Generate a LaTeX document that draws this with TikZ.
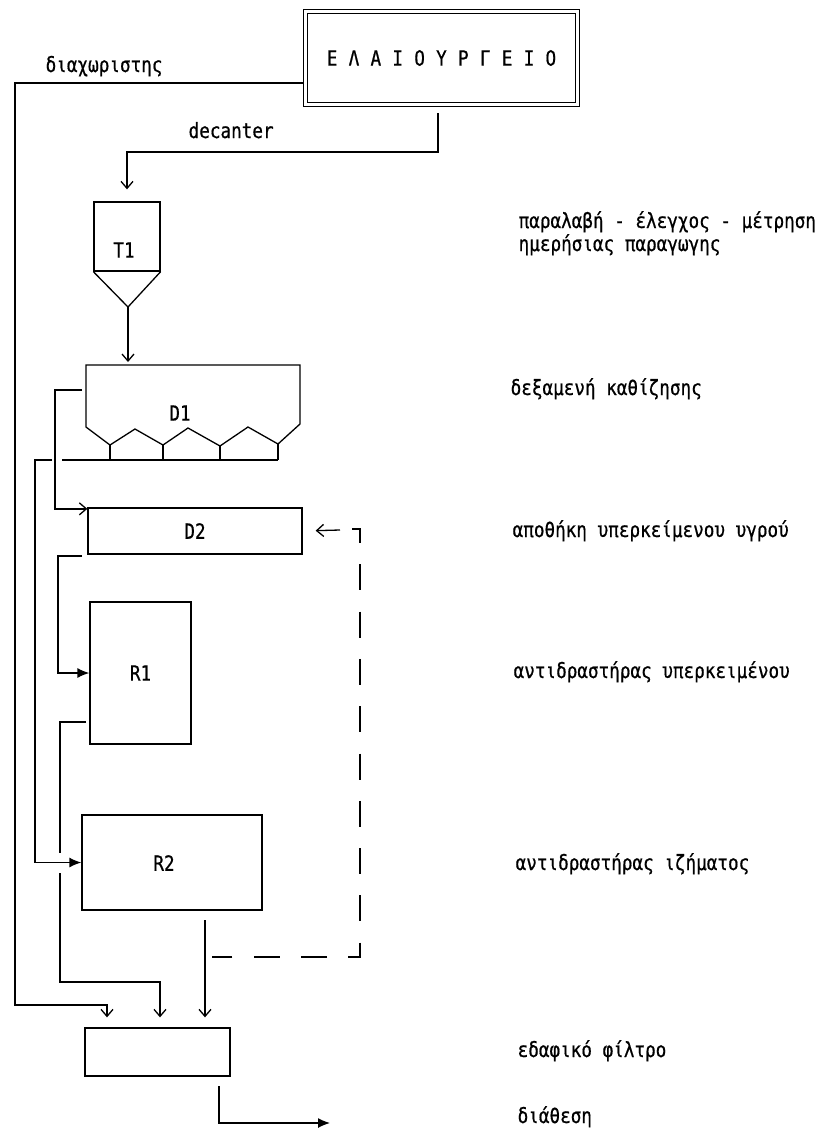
\documentclass[tikz,border=0pt]{standalone}
\usepackage{fontspec}
\newfontfamily\tw[FakeStretch=0.84,FakeBold=0.6]{DejaVu Sans Mono}
\newfontfamily\twsp[FakeStretch=0.84,FakeBold=0.6,LetterSpace=3]{DejaVu Sans Mono}
\usetikzlibrary{arrows.meta,calc}

\begin{document}
\begin{tikzpicture}[x=1pt,y=-1pt,line width=1.3pt,
  font=\tw\fontsize{21}{24}\selectfont,
  unit/.style={draw,inner sep=0pt},
  pipe/.style={-{Straight Barb[length=7pt,width=12pt]}},
  feed/.style={-{Latex[length=12pt,width=10pt]}},
  note/.style={anchor=base west,inner sep=0pt}]
\useasboundingbox (0,0) rectangle (830,1133);

\node[unit,double,double distance=3pt,line width=1.1pt,minimum width=272pt,minimum height=93pt] (mill) at (441.5,58) {\twsp Ε Λ Α Ι Ο Υ Ρ Γ Ε Ι Ο};

\node[unit,minimum width=66pt,minimum height=69pt] (t1) at (127,236.5) {};
\node (t1lab) at (124,250) {T1};
\coordinate (t1tip) at (128,307);
\draw (t1.south west) -- (t1tip) -- (t1.south east);

\coordinate (d1nw) at (86,365);
\coordinate (d1ne) at (300,365);
\draw (86,427) -- (d1nw) -- (d1ne) -- (300,424) -- (278,444) -- (248,427) -- (220,446) -- (188,428) -- (163,445) -- (135,429) -- (110,445) -- cycle;
\foreach \x/\y in {110/445,163/445,220/446,278/444}
  \draw (\x,\y) -- (\x,460);
\draw (62,460) -- (278,460);
\node (d1lab) at (180,413) {D1};

\node[unit,minimum width=214pt,minimum height=46pt] (d2) at (195,531) {D2};
\node[unit,minimum width=101pt,minimum height=142pt] (r1) at (140.5,673) {R1};
\node[unit,minimum width=180pt,minimum height=95pt] (r2) at (172,862.5) {};
\node (r2lab) at (164,863) {R2};
\node[unit,minimum width=145pt,minimum height=48pt] (filt) at (157.5,1052) {};

\coordinate (sepout) at (303,83);
\draw[pipe,shorten >=10pt] (sepout) -| (15,1005) -| ([xshift=-50.5pt]filt.north);

\coordinate (decout) at (438,113);
\draw[pipe,shorten >=12pt] (decout) -- (438,152) -| (t1.north);

\draw[pipe,shorten >=3pt] (t1tip) -- (t1tip |- d1nw);

\coordinate (d1up) at (82,390);
\draw[pipe] (d1up) -- (55,390) |- ([yshift=-1.5pt]d2.north west);

\coordinate (d1low) at (52,460);
\draw[feed] (d1low) -- (35,460) |- (r2.west);

\coordinate (d2out) at (82,556);
\draw[feed] (d2out) -- (58,556) |- (r1.west);

\coordinate (r1out) at (86,722);
\coordinate (hop) at (60,853);
\coordinate (hopend) at (60,873);
\draw (r1out) -| (hop);
\draw[pipe,shorten >=10pt] (hopend) -- (60,982) -| ([xshift=2.5pt]filt.north);

\coordinate (r2out) at (205,920);
\draw[pipe,shorten >=10pt] (r2out) -- (r2out |- filt.north);

\coordinate (ret) at (340,530);
\draw[dash pattern=on 26pt off 21.3pt,dash phase=4pt] (352,529) -- (360,529) -- (360,957) -- (212,957);
\draw[pipe,shorten >=13pt] (ret) -- (d2.east);

\coordinate (fout) at (219,1086);
\coordinate (disp) at (330,1123);
\draw[feed] (fout) |- (disp);

\node[note] (lsep) at (45,72) {διαχωριστης};
\node[note] (ldec) at (188,138) {decanter};
\node[note] (l1) at (518,228) {παραλαβή - έλεγχος - μέτρηση};
\node[note] (l1b) at (518,251) {ημερήσιας παραγωγης};
\node[note] (l2) at (510,395) {δεξαμενή καθίζησης};
\node[note] (l3) at (512,537) {αποθήκη υπερκείμενου υγρού};
\node[note] (l4) at (513,678) {αντιδραστήρας υπερκειμένου};
\node[note] (l5) at (515,870) {αντιδραστήρας ιζήματος};
\node[note] (l6) at (517,1057) {εδαφικό φίλτρο};
\node[note] (l7) at (517,1123) {διάθεση};
\end{tikzpicture}
\end{document}
